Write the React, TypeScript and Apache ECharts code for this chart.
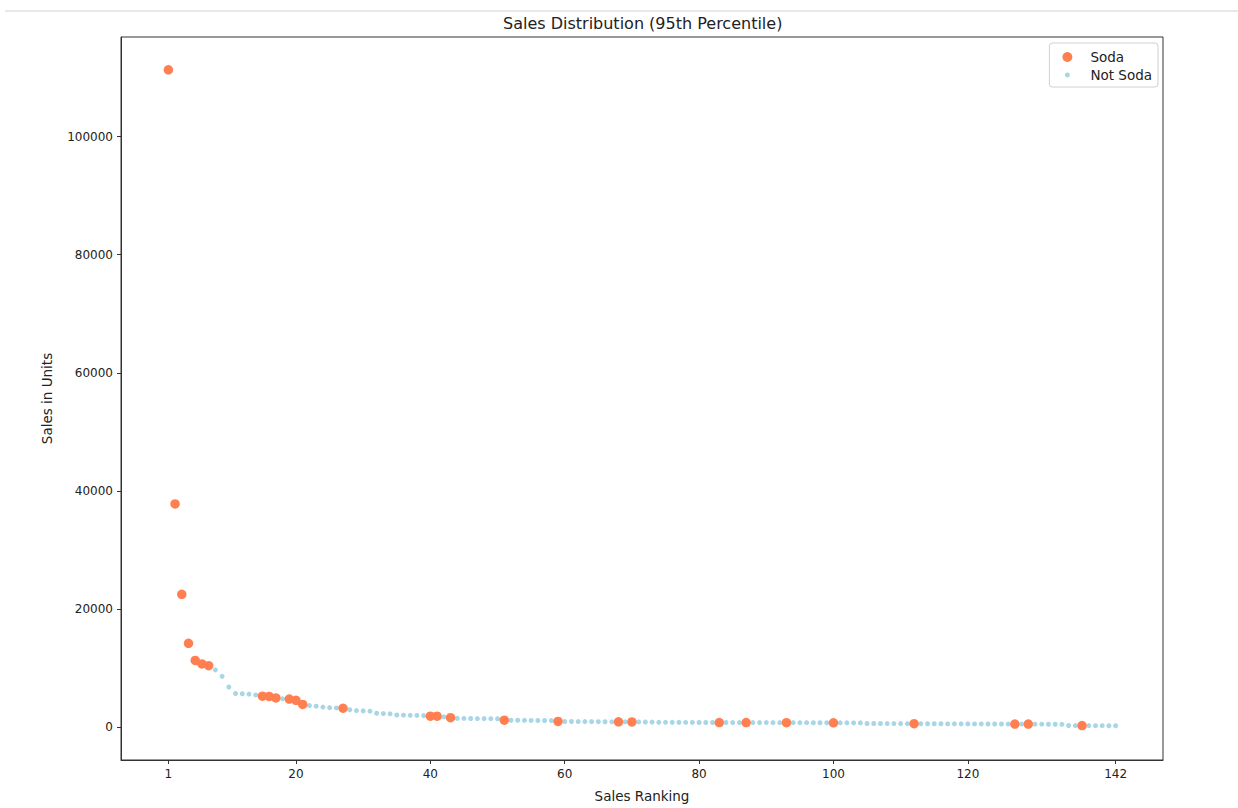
import React, { useEffect, useRef } from "react";
import * as echarts from "echarts";

// Soda items: sales ranking and units sold
const sodaRanks = [1, 2, 3, 4, 5, 6, 7, 15, 16, 17, 19, 20, 21, 27, 40, 41, 43, 51, 59, 68, 70, 83, 87, 93, 100, 112, 127, 129, 137];
const sodaSales = [111300, 37800, 22500, 14200, 11300, 10700, 10400, 5250, 5200, 4950, 4750, 4550, 3850, 3200, 1850, 1850, 1600, 1180, 960, 900, 890, 780, 770, 760, 740, 585, 520, 510, 260];

// Non-soda items
const otherRanks = [8, 9, 10, 11, 12, 13, 14, 18, 22, 23, 24, 25, 26, 28, 29, 30, 31, 32, 33, 34, 35, 36, 37, 38, 39, 42, 44, 45, 46, 47, 48, 49, 50, 52, 53, 54, 55, 56, 57, 58, 60, 61, 62, 63, 64, 65, 66, 67, 69, 71, 72, 73, 74, 75, 76, 77, 78, 79, 80, 81, 82, 84, 85, 86, 88, 89, 90, 91, 92, 94, 95, 96, 97, 98, 99, 101, 102, 103, 104, 105, 106, 107, 108, 109, 110, 111, 113, 114, 115, 116, 117, 118, 119, 120, 121, 122, 123, 124, 125, 126, 128, 130, 131, 132, 133, 134, 135, 136, 138, 139, 140, 141, 142];
const otherSales = [9700, 8600, 6800, 5700, 5650, 5600, 5450, 4800, 3650, 3550, 3400, 3300, 3250, 2950, 2800, 2750, 2700, 2350, 2300, 2250, 2050, 2020, 2000, 1980, 1950, 1750, 1480, 1470, 1460, 1450, 1440, 1430, 1420, 1170, 1160, 1150, 1140, 1130, 1120, 1110, 955, 950, 945, 940, 930, 920, 910, 905, 900, 880, 870, 860, 820, 815, 810, 805, 800, 795, 790, 790, 785, 780, 775, 775, 770, 765, 765, 760, 760, 755, 750, 750, 745, 745, 740, 735, 730, 725, 720, 620, 615, 610, 605, 600, 595, 590, 580, 575, 570, 570, 565, 560, 555, 550, 545, 540, 535, 530, 525, 520, 515, 505, 500, 495, 490, 480, 280, 270, 255, 250, 245, 240, 230];

const xTicks = [1, 20, 40, 60, 80, 100, 120, 142];
const yTicks = [0, 20000, 40000, 60000, 80000, 100000];

const FONT = "DejaVu Sans";

export default function App() {
  const ref = useRef<HTMLDivElement>(null);

  useEffect(() => {
    if (!ref.current) return;
    const chart = echarts.init(ref.current, undefined, { renderer: "svg" });
    const soda = sodaRanks.map((r, i) => [r, sodaSales[i]]);
    const other = otherRanks.map((r, i) => [r, otherSales[i]]);
    chart.setOption({
      animation: false,
      backgroundColor: "#ffffff",
      textStyle: { fontFamily: FONT },
      title: {
        text: "Sales Distribution (95th Percentile)",
        left: 498,
        top: 10,
        textStyle: { fontFamily: FONT, fontSize: 16, fontWeight: "normal", color: "#222" },
      },
      legend: {
        orient: "vertical",
        right: 80,
        top: 43,
        padding: [7, 6, 5, 13],
        itemGap: 4,
        itemWidth: 36,
        itemHeight: 10,
        backgroundColor: "#fff",
        borderColor: "#d0d0d0",
        borderWidth: 1,
        borderRadius: 3,
        textStyle: { fontFamily: FONT, fontSize: 13.5, color: "#222" },
        data: [
          { name: "Soda", icon: "circle" },
          { name: "Not Soda", icon: "path://M0,0M20,20M5,10a5,5 0 1,0 10,0a5,5 0 1,0 -10,0Z" },
        ],
      },
      graphic: [
        {
          type: "line",
          shape: { x1: 5, y1: 11, x2: 1238, y2: 11 },
          style: { stroke: "#e8e8e8", lineWidth: 2 },
        },
      ],
      grid: {
        left: 121,
        top: 37,
        width: 1042,
        height: 727,
        show: true,
        borderColor: "#333",
        borderWidth: 1,
        backgroundColor: "transparent",
      },
      xAxis: {
        type: "value",
        min: -6.05,
        max: 149.05,
        name: "Sales Ranking",
        nameLocation: "middle",
        nameGap: 29,
        nameTextStyle: { fontFamily: FONT, fontSize: 13.5, color: "#222" },
        axisLine: { show: true, onZero: false, lineStyle: { color: "#333" } },
        axisTick: { show: true, inside: false, length: 4, customValues: xTicks, lineStyle: { color: "#333" } },
        axisLabel: { customValues: xTicks, margin: 8, fontFamily: FONT, fontSize: 12, color: "#222" },
        splitLine: { show: false },
      },
      yAxis: {
        type: "value",
        min: -5565,
        max: 116865,
        name: "Sales in Units",
        nameLocation: "middle",
        nameGap: 67,
        nameTextStyle: { fontFamily: FONT, fontSize: 13.5, color: "#222" },
        axisLine: { show: true, onZero: false, lineStyle: { color: "#333" } },
        axisTick: { show: true, inside: false, length: 4, customValues: yTicks, lineStyle: { color: "#333" } },
        axisLabel: {
          customValues: yTicks,
          margin: 8,
          fontFamily: FONT,
          fontSize: 12,
          color: "#222",
          formatter: (v: number) => String(v),
        },
        splitLine: { show: false },
      },
      series: [
        {
          name: "Not Soda",
          type: "scatter",
          data: other,
          symbol: "circle",
          symbolSize: 5,
          itemStyle: { color: "#A8D6E6", opacity: 1 },
          z: 2,
        },
        {
          name: "Soda",
          type: "scatter",
          data: soda,
          symbol: "circle",
          symbolSize: 9.5,
          itemStyle: { color: "#FF7F50", opacity: 1 },
          z: 3,
        },
      ],
    });
    return () => chart.dispose();
  }, []);

  return (
    <div
      ref={ref}
      style={{ position: "absolute", left: 0, top: 0, width: 1238, height: 808, background: "#fff" }}
    />
  );
}
